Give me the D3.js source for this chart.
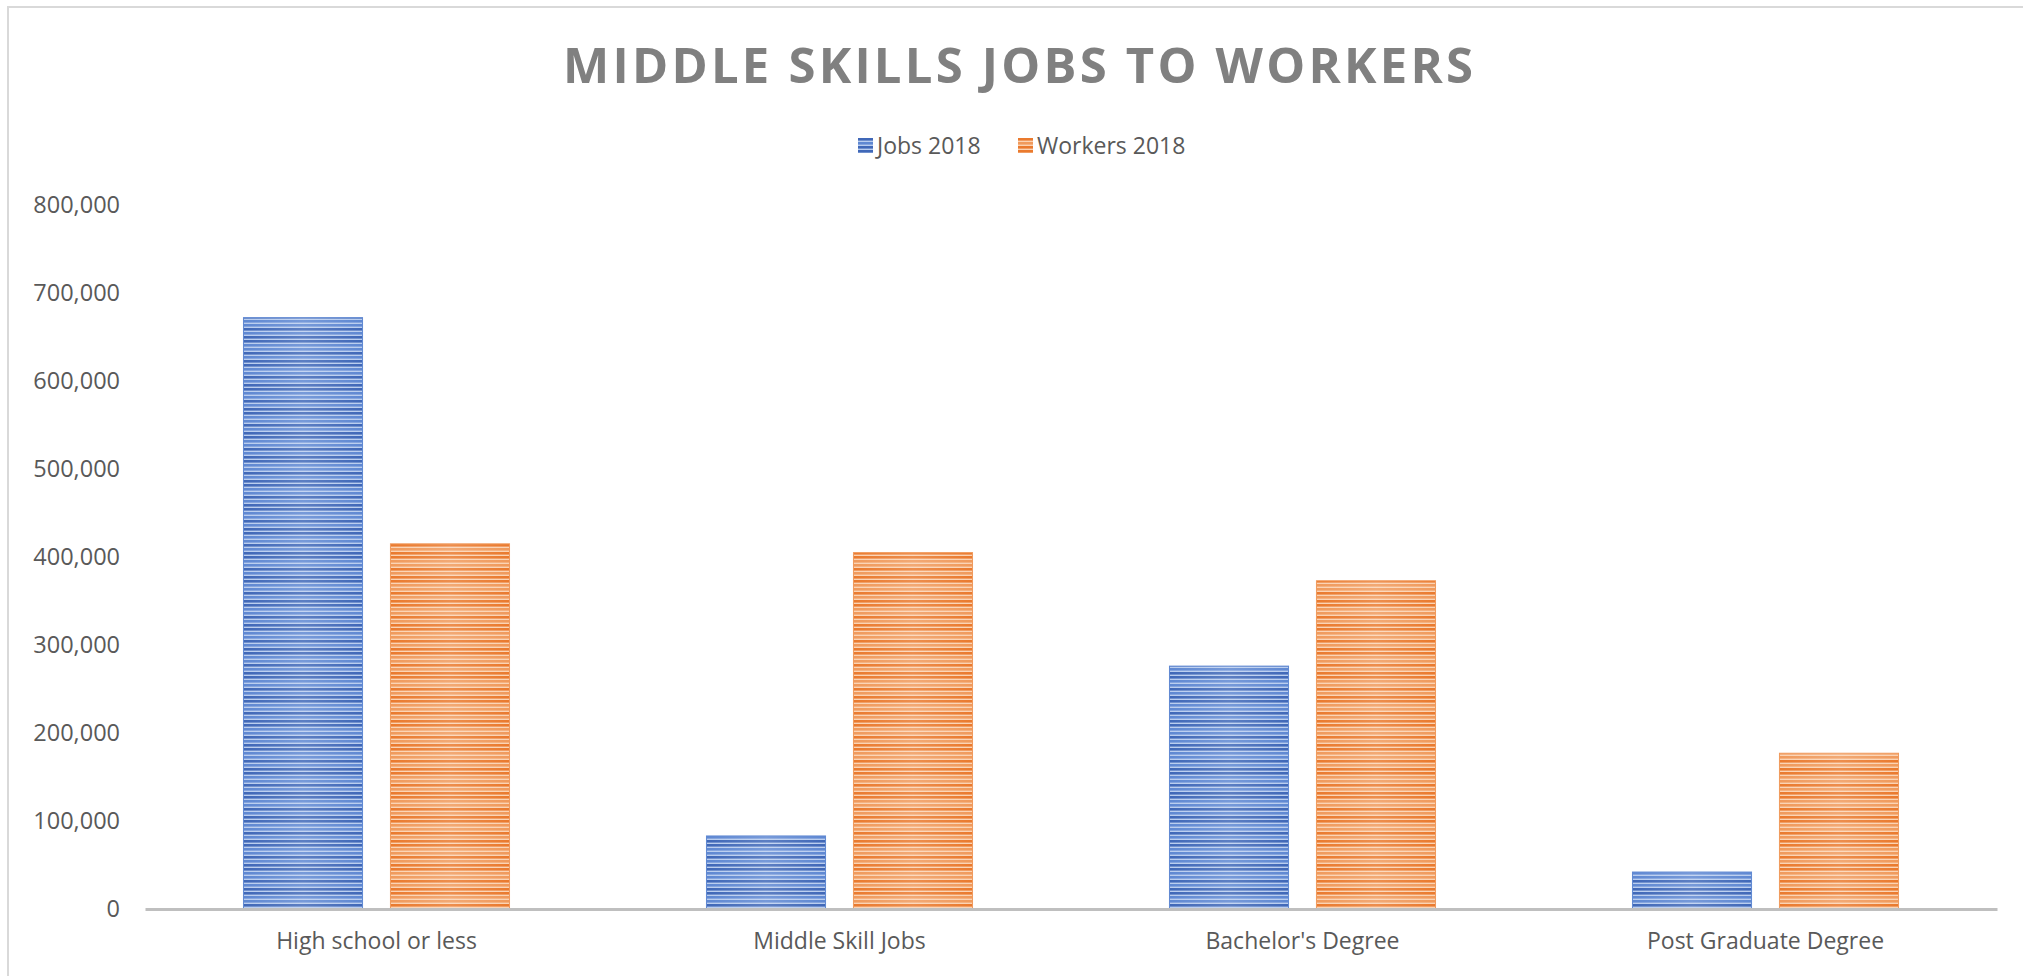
<!DOCTYPE html>
<html>
<head>
<meta charset="utf-8">
<script src="https://cdn.jsdelivr.net/npm/d3@7"></script>
<style>
  body { margin: 0; background: #fff; }
  svg { display: block; font-family: "Open Sans", sans-serif; }
</style>
</head>
<body>
<div id="chart"></div>
<script>

// chart size, same as the window
const width = 2023;
const height = 976;
const margin = {left: 145, right: 26, bottom: 67, top: 205};

// data
const categories = ["High school or less", "Middle Skill Jobs", "Bachelor's Degree", "Post Graduate Degree"];
const seriesNames = ["Jobs 2018", "Workers 2018"];
const jobs2018 = [672000, 83000, 276000, 42000];
const workers2018 = [415000, 405000, 373000, 177000];
const yTicks = [0, 100000, 200000, 300000, 400000, 500000, 600000, 700000, 800000];
const chartTitle = "MIDDLE SKILLS JOBS TO WORKERS";

// colours for each series: dark line, mid line, pale gap
const seriesColors = {
  "Jobs 2018": {dark: "#4068b8", mid: "#5f88d2", light: "#b9cdef"},
  "Workers 2018": {dark: "#ea7a2e", mid: "#f09a5c", light: "#fbd3b3"}
};

const svg = d3.select("#chart")
  .append("svg")
  .attr("width", width)
  .attr("height", height);

// outer frame of the chart area (only top and left show)
svg.append("rect")
  .attr("x", 8)
  .attr("y", 7)
  .attr("width", width + 20)
  .attr("height", height + 20)
  .attr("fill", "none")
  .attr("stroke", "#d9d9d9")
  .attr("stroke-width", 2);

/*
  Striped fills for the bars
*/
const defs = svg.append("defs");
seriesNames.forEach((name, k) => {
  const c = seriesColors[name];
  const pat = defs.append("pattern")
    .attr("id", "stripe" + k)
    .attr("patternUnits", "userSpaceOnUse")
    .attr("width", 8)
    .attr("height", 24);
  pat.append("rect").attr("width", 8).attr("height", 24).attr("fill", c.light);
  // six thin lines, going from dark to pale and back
  const shades = [c.dark, c.dark, c.mid, c.mid, c.dark, c.mid];
  shades.forEach((col, j) => {
    pat.append("rect")
      .attr("y", j * 4)
      .attr("width", 8)
      .attr("height", 2.6)
      .attr("fill", col);
  });

  // soft lighter middle across the bar width
  const grad = defs.append("linearGradient")
    .attr("id", "sheen" + k)
    .attr("x1", 0).attr("x2", 1).attr("y1", 0).attr("y2", 0);
  grad.append("stop").attr("offset", "0%").attr("stop-color", "#fff").attr("stop-opacity", 0);
  grad.append("stop").attr("offset", "50%").attr("stop-color", "#fff").attr("stop-opacity", 0.15);
  grad.append("stop").attr("offset", "100%").attr("stop-color", "#fff").attr("stop-opacity", 0);
});

/*
  Scales and axes
*/
const yScale = d3.scaleLinear()
  .domain([0, 800000])
  .range([height - margin.bottom, margin.top]);

const xScale = d3.scaleBand()
  .domain(categories)
  .range([margin.left, width - margin.right])
  .padding(0);

const xInner = d3.scaleBand()
  .domain(seriesNames)
  .range([0, xScale.bandwidth()])
  .paddingInner(0.19)
  .paddingOuter(0.67);

// y axis labels, no line, no ticks
const yAxis = svg.append("g")
  .attr("transform", `translate(${margin.left}, 0)`)
  .call(d3.axisLeft(yScale)
    .tickValues(yTicks)
    .tickSize(0)
    .tickPadding(25)
    .tickFormat(d3.format(",")));
yAxis.select(".domain").remove();
yAxis.selectAll("text")
  .attr("font-size", "23.5px")
  .attr("font-family", "Open Sans")
  .attr("fill", "#595959");

/*
  Bars
*/
const table = categories.map((c, i) => ({
  category: c,
  values: [
    {series: seriesNames[0], value: jobs2018[i], k: 0},
    {series: seriesNames[1], value: workers2018[i], k: 1}
  ]
}));

const groups = svg.selectAll(".group")
  .data(table)
  .enter()
  .append("g")
    .attr("class", "group")
    .attr("transform", d => `translate(${xScale(d.category)}, 0)`);

groups.selectAll(".bar")
  .data(d => d.values)
  .enter()
  .append("rect")
    .attr("class", "bar")
    .attr("x", d => xInner(d.series))
    .attr("y", d => yScale(d.value))
    .attr("width", xInner.bandwidth())
    .attr("height", d => yScale(0) - yScale(d.value))
    .attr("fill", d => `url(#stripe${d.k})`)
    .attr("stroke", d => seriesColors[d.series].mid)
    .attr("stroke-width", 1);

groups.selectAll(".sheen")
  .data(d => d.values)
  .enter()
  .append("rect")
    .attr("class", "sheen")
    .attr("x", d => xInner(d.series))
    .attr("y", d => yScale(d.value))
    .attr("width", xInner.bandwidth())
    .attr("height", d => yScale(0) - yScale(d.value))
    .attr("fill", d => `url(#sheen${d.k})`);

// x axis, drawn after the bars so the base line sits on top
const xAxis = svg.append("g")
  .attr("transform", `translate(0, ${yScale(0)})`)
  .call(d3.axisBottom(xScale)
    .tickSize(0)
    .tickPadding(24));
xAxis.select(".domain")
  .attr("stroke", "#bfbfbf")
  .attr("stroke-width", 3);
xAxis.selectAll("text")
  .attr("font-size", "23px")
  .attr("font-family", "Open Sans")
  .attr("fill", "#595959");

/*
  Title and legend
*/
svg.append("text")
  .attr("x", 1018)
  .attr("y", 83)
  .attr("text-anchor", "middle")
  .attr("font-family", "Open Sans")
  .attr("font-weight", "bold")
  .attr("font-size", "49px")
  .attr("fill", "#808080")
  .attr("textLength", 910)
  .attr("lengthAdjust", "spacing")
  .text(chartTitle);

const legend = svg.append("g")
  .attr("transform", "translate(1025, 146)");

const legendX = d3.scalePoint()
  .domain(seriesNames)
  .range([-160, 0]);

const legendItems = legend.selectAll(".legend-item")
  .data(seriesNames)
  .enter()
  .append("g")
    .attr("class", "legend-item")
    .attr("transform", d => `translate(${legendX(d)}, 0)`);

legendItems.append("rect")
  .attr("x", -7)
  .attr("y", -8)
  .attr("width", 15)
  .attr("height", 15)
  .attr("fill", (d, i) => `url(#stripe${i})`);

legendItems.append("text")
  .attr("x", 12)
  .attr("y", 0)
  .attr("dy", "0.35em")
  .attr("font-size", "23px")
  .attr("fill", "#595959")
  .text(d => d);

</script>
</body>
</html>
